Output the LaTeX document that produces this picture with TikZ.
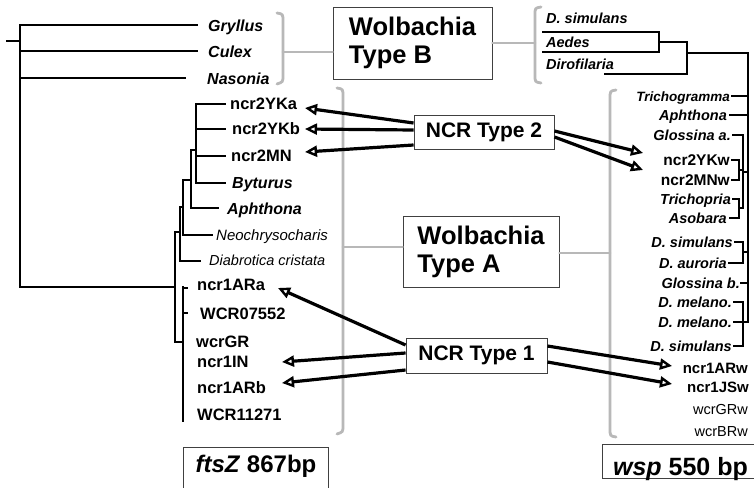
\documentclass[tikz,border=0pt]{standalone}
\usepackage{fontspec}
\setmainfont{Liberation Sans}
\usetikzlibrary{arrows.meta}
\begin{document}
\begin{tikzpicture}[x=1pt,y=-1pt,
  tree/.style={line width=2.8pt, line cap=rect, black},
  treer/.style={line width=2.4pt, line cap=rect, black},
  gbr/.style={line width=2.8pt, color=black!28, line cap=round},
  boxn/.style={draw=black!75, line width=0.9pt, fill=white, inner sep=0pt},
  arr/.style={line width=3.2pt, -{Triangle[open, length=12pt, width=11pt, line width=2.4pt]}},
  lab/.style={inner sep=0pt, text height=11pt, text depth=0pt, font=\fontsize{16.5}{18}\selectfont\bfseries},
  labi/.style={lab, font=\fontsize{16}{18}\selectfont\bfseries\itshape},
  labs/.style={lab, font=\fontsize{14.5}{18}\selectfont\bfseries\itshape},
  labn/.style={lab, font=\fontsize{15}{18}\selectfont\itshape},
  labr/.style={lab, font=\fontsize{15}{18}\selectfont\bfseries},
  labw/.style={lab, font=\fontsize{14.5}{18}\selectfont}
]
\useasboundingbox (0,0) rectangle (754,487);
\fill[white] (0,0) rectangle (754,487);

% ---------- left tree ----------
\draw[tree] (7,41) -- (20,41);
\draw[tree] (20,25) -- (20,287) -- (175,287);
\draw[tree] (20,25) -- (197,25);
\draw[tree] (20,51) -- (197,51);
\draw[tree] (20,78) -- (185,78);
\draw[tree] (175,232) -- (175,342) -- (183,342);
\draw[tree] (175,232) -- (180,232);
\draw[tree] (180,207) -- (180,261) -- (200,261);
\draw[tree] (180,207) -- (183,207);
\draw[tree] (183,180) -- (183,235) -- (212,235);
\draw[tree] (183,180) -- (191,180);
\draw[tree] (191,150) -- (191,208) -- (218,208);
\draw[tree] (191,150) -- (196,150);
\draw[tree] (196,104) -- (196,183);
\draw[tree] (196,104) -- (225,104);
\draw[tree] (196,129) -- (225,129);
\draw[tree] (196,156) -- (225,156);
\draw[tree] (196,183) -- (225,183);
\draw[tree] (183,287) -- (183,421);
\draw[tree] (183,288) -- (187,288);
\draw[tree] (183,313) -- (187,313);

\node[labi, anchor=west] (gry) at (208,26) {Gryllus};
\node[labi, anchor=west] (cul) at (208,52) {Culex};
\node[labi, anchor=west] (nas) at (207,79) {Nasonia};
\node[lab, anchor=west] (yka) at (230,104) {ncr2YKa};
\node[lab, anchor=west] (ykb) at (232,129) {ncr2YKb};
\node[lab, anchor=west] (mn) at (231,156) {ncr2MN};
\node[labi, anchor=west] (byt) at (232,183) {Byturus};
\node[labi, anchor=west] (aph) at (227,209) {Aphthona};
\node[labn, anchor=west] (neo) at (216,235) {Neochrysocharis};
\node[labn, anchor=west, font=\fontsize{14.5}{18}\selectfont\itshape] (dia) at (209,260) {Diabrotica cristata};
\node[lab, anchor=west] (ara) at (197,285) {ncr1ARa};
\node[lab, anchor=west] (w07) at (200,314) {WCR07552};
\node[lab, anchor=west] (wgr) at (196,342) {wcrGR};
\node[lab, anchor=west] (nin) at (197,362) {ncr1IN};
\node[lab, anchor=west] (arb) at (197,388) {ncr1ARb};
\node[lab, anchor=west] (w11) at (197,415) {WCR11271};

% ---------- top right tree ----------
\draw[treer] (543,32) -- (659,32);
\draw[treer] (543,52) -- (659,52);
\draw[treer] (659,32) -- (659,52);
\draw[treer] (659,42) -- (687,42);
\draw[treer] (605,74) -- (687,74);
\draw[treer] (687,42) -- (687,74);
\draw[treer] (687,53) -- (748,53);
\draw[treer] (748,53) -- (748,322);
\node[labs, anchor=west] (tsim) at (546,18) {D. simulans};
\node[labs, anchor=west] (aed) at (546,42) {Aedes};
\node[labs, anchor=west] (dir) at (546,64) {Dirofilaria};

% ---------- right tree (type A) ----------
\draw[treer] (732,96) -- (748,96);
\draw[treer] (730,115) -- (748,115);
\draw[treer] (733,135) -- (743,135);
\draw[treer] (743,135) -- (743,208);
\draw[treer] (732,160) -- (739,160);
\draw[treer] (732,180) -- (739,180);
\draw[treer] (739,160) -- (739,180);
\draw[treer] (739,170) -- (743,170);
\draw[treer] (733,199) -- (739,199);
\draw[treer] (730,218) -- (739,218);
\draw[treer] (739,199) -- (739,218);
\draw[treer] (739,208) -- (743,208);
\draw[treer] (743,172) -- (748,172);
\draw[treer] (735,242) -- (743,242);
\draw[treer] (729,263) -- (743,263);
\draw[treer] (743,242) -- (743,263);
\draw[treer] (743,252) -- (748,252);
\draw[treer] (741,283) -- (748,283);
\draw[treer] (734,302) -- (743,302);
\draw[treer] (734,322) -- (743,322);
\draw[treer] (734,346) -- (743,346);
\draw[treer] (743,302) -- (743,346);
\draw[treer] (743,322) -- (748,322);

\node[labs, anchor=east, font=\fontsize{13.5}{18}\selectfont\bfseries\itshape] (tri) at (730,96) {Trichogramma};
\node[labs, anchor=east] (raph) at (727,115) {Aphthona};
\node[labs, anchor=east] (gla) at (731,135) {Glossina a.};
\node[labr, anchor=east, font=\fontsize{15.5}{18}\selectfont\bfseries] (ykw) at (730,160) {ncr2YKw};
\node[labr, anchor=east, font=\fontsize{15.5}{18}\selectfont\bfseries] (mnw) at (730,180) {ncr2MNw};
\node[labs, anchor=east] (trp) at (731,199) {Trichopria};
\node[labs, anchor=east] (aso) at (727,218) {Asobara};
\node[labs, anchor=east] (rs1) at (733,242) {D. simulans};
\node[labs, anchor=east] (aur) at (727,263) {D. auroria};
\node[labs, anchor=east] (glb) at (740,283) {Glossina b.};
\node[labs, anchor=east] (me1) at (732,302) {D. melano.};
\node[labs, anchor=east] (me2) at (732,322) {D. melano.};
\node[labs, anchor=east] (rs2) at (732,346) {D. simulans};
\node[labr, anchor=east] (arw) at (748,368) {ncr1ARw};
\node[labr, anchor=east] (jsw) at (749,387) {ncr1JSw};
\node[labw, anchor=east] (grw) at (748,409) {wcrGRw};
\node[labw, anchor=east] (brw) at (748,431) {wcrBRw};

% ---------- boxes ----------
\node[boxn, minimum width=159pt, minimum height=72pt, align=left,
      font=\fontsize{25.5}{28}\selectfont\bfseries] (tB) at (412.5,43) {Wolbachia\\Type B};
\node[boxn, minimum width=156pt, minimum height=71pt, align=left,
      font=\fontsize{25.5}{28}\selectfont\bfseries] (tA) at (481,251.5) {Wolbachia\\Type A};
\node[boxn, minimum width=140pt, minimum height=34pt,
      font=\fontsize{21}{24}\selectfont\bfseries] (n2) at (484,132) {NCR Type 2};
\node[boxn, minimum width=141pt, minimum height=35pt,
      font=\fontsize{21}{24}\selectfont\bfseries] (n1) at (476.5,355.5) {NCR Type 1};
\node[boxn, anchor=north west, minimum width=145pt, inner xsep=11pt,
      text height=25pt, text depth=23pt,
      font=\fontsize{24}{26}\selectfont\bfseries] (fz) at (183,447) {\textit{ftsZ} 867bp};
\node[boxn, anchor=north west, minimum width=156pt, inner xsep=3pt,
      text height=31pt, text depth=3pt,
      font=\fontsize{25}{27}\selectfont\bfseries] (wsp) at (602,444) {\textit{wsp}\hspace{7pt}550 bp};

% ---------- gray brackets ----------
\draw[gbr] (277,13) .. controls (283,14) .. (283,22) -- (283,75) .. controls (283,82) .. (277,84);
\draw[gbr] (283,52) -- ([yshift=-9pt]tB.west);
\draw[gbr] (tB.east) -- (535,43);
\draw[gbr] (541,7) .. controls (535,8) .. (535,15) -- (535,75) .. controls (535,82) .. (541,83);
\draw[gbr] (337,88) .. controls (343,89) .. (343,97) -- (343,425) .. controls (343,432) .. (337,434);
\draw[gbr] (343,247) -- ([yshift=4.5pt]tA.west);
\draw[gbr] ([yshift=-1.5pt]tA.east) -- (610,253);
\draw[gbr] (616,90) .. controls (610,91) .. (610,99) -- (610,428) .. controls (610,436) .. (616,437);

% ---------- arrows ----------
\coordinate (tYKa) at (305,108);
\coordinate (tYKb) at (305,129);
\coordinate (tMN) at (305,152);
\coordinate (tYKw) at (643,153);
\coordinate (tMNw) at (643,170);
\coordinate (tARa) at (278,288);
\coordinate (tIN) at (282,362);
\coordinate (tARb) at (282,383);
\coordinate (tARw) at (672,366);
\coordinate (tJSw) at (672,384);

\draw[arr] ([yshift=9pt]n2.west) -- (tYKa);
\draw[arr] ([yshift=2pt]n2.west) -- (tYKb);
\draw[arr] ([yshift=-13pt]n2.west) -- (tMN);
\draw[arr] ([yshift=1pt]n2.east) -- (tYKw);
\draw[arr] ([yshift=-5pt]n2.east) -- (tMNw);
\draw[arr] ([yshift=10.5pt]n1.west) -- (tARa);
\draw[arr] ([yshift=2.5pt]n1.west) -- (tIN);
\draw[arr] ([yshift=-14.5pt]n1.west) -- (tARb);
\draw[arr] ([yshift=9.5pt]n1.east) -- (tARw);
\draw[arr] ([yshift=-6.5pt]n1.east) -- (tJSw);
\end{tikzpicture}
\end{document}
